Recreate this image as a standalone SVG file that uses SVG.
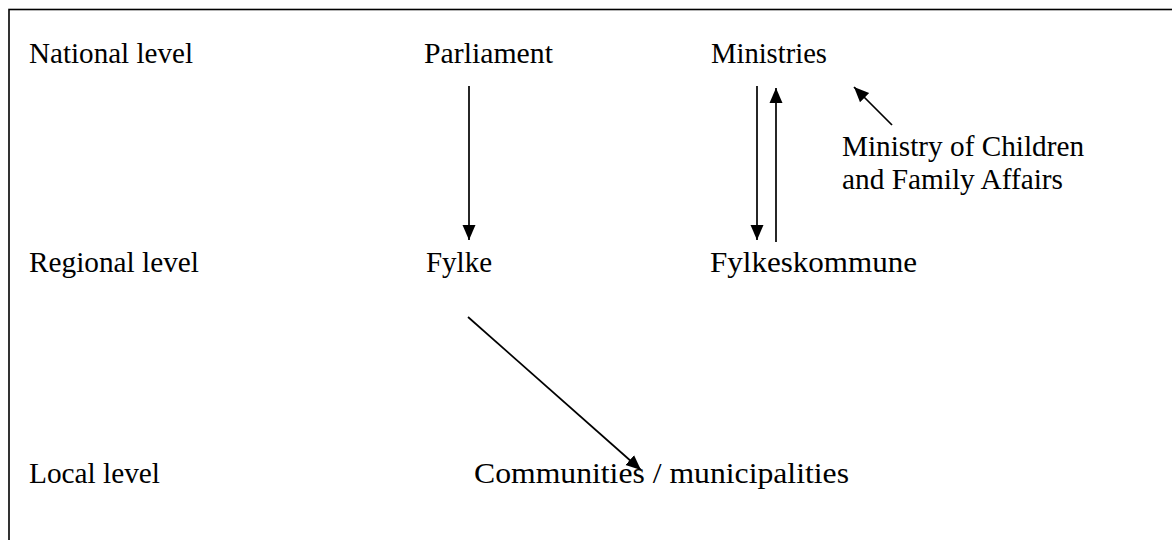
<svg xmlns="http://www.w3.org/2000/svg" width="1172" height="540" viewBox="0 0 1172 540">
<style>
text{font-family:"Liberation Serif","Times New Roman",serif;font-size:28.5px;fill:#000}
.c{stroke:#000;stroke-width:1.7;fill:none}
</style>
<defs>
<marker id="ah" markerUnits="userSpaceOnUse" markerWidth="16" markerHeight="16" viewBox="0 0 16 16" refX="15" refY="8" orient="auto">
<path d="M0,1.5 L15,8 L0,14.5 Z" fill="#000"/>
</marker>
</defs>
<rect x="9" y="9.5" width="1180" height="560" fill="#fff" stroke="#000" stroke-width="1.6"/>
<g id="label-national"><text x="29" y="63" textLength="164" lengthAdjust="spacingAndGlyphs">National level</text></g>
<g id="label-regional"><text x="29" y="272" textLength="170" lengthAdjust="spacingAndGlyphs">Regional level</text></g>
<g id="label-local"><text x="29" y="483" textLength="131" lengthAdjust="spacingAndGlyphs">Local level</text></g>
<g id="node-parliament"><text x="424" y="63" textLength="129" lengthAdjust="spacingAndGlyphs">Parliament</text></g>
<g id="node-ministries"><text x="711" y="63" textLength="116" lengthAdjust="spacingAndGlyphs">Ministries</text></g>
<g id="node-mcfa"><text x="842" y="156" textLength="242" lengthAdjust="spacingAndGlyphs">Ministry of Children</text><text x="842" y="189" textLength="221" lengthAdjust="spacingAndGlyphs">and Family Affairs</text></g>
<g id="node-fylke"><text x="426" y="272" textLength="66" lengthAdjust="spacingAndGlyphs">Fylke</text></g>
<g id="node-fylkeskommune"><text x="710" y="272" textLength="207" lengthAdjust="spacingAndGlyphs">Fylkeskommune</text></g>
<g id="node-communities"><text x="474" y="483" textLength="375" lengthAdjust="spacingAndGlyphs">Communities / municipalities</text></g>
<g id="connectors">
<line class="c" x1="469" y1="86" x2="469" y2="240" marker-end="url(#ah)"/>
<line class="c" x1="757" y1="86" x2="757" y2="240" marker-end="url(#ah)"/>
<line class="c" x1="776" y1="242" x2="776" y2="88" marker-end="url(#ah)"/>
<line class="c" x1="892" y1="125" x2="854" y2="87" marker-end="url(#ah)"/>
<line class="c" x1="468" y1="317" x2="641" y2="470" marker-end="url(#ah)"/>
</g>
</svg>
